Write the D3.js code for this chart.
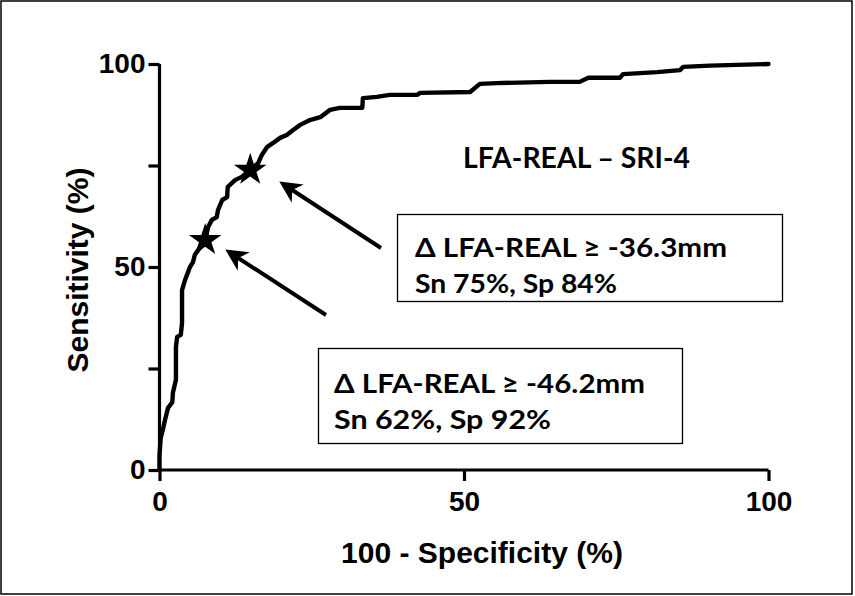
<!DOCTYPE html>
<html>
<head>
<meta charset="utf-8">
<script src="https://cdn.jsdelivr.net/npm/d3@7"></script>
<style>
  html, body { margin: 0; padding: 0; background: #fff; }
  svg { display: block; }
</style>
</head>
<body>
<svg id="chart" width="855" height="596"></svg>
<script>
// ---- data ----
const fpr = [0, 0, 0.2, 0.6, 0.9, 1.4, 2.1, 2.2, 2.7, 2.7, 2.7, 2.7, 2.9, 3.5, 3.7, 3.7, 3.7, 4.2, 4.5, 5.0, 5.5, 5.8, 6.7, 7.5, 8.0, 8.6, 9.4, 9.6, 10.3, 11.1, 11.2, 12.4, 13.5, 14.9, 16.2, 16.8, 17.7, 18.6, 19.8, 20.9, 21.9, 23.1, 24.7, 26.4, 28.0, 29.6, 33.3, 33.4, 35.7, 37.8, 42.3, 42.8, 51.0, 52.6, 55.4, 64.1, 69.0, 70.4, 75.6, 76.1, 81.7, 85.5, 86.0, 90.4, 100];
const sensitivity = [0, 3.7, 7.9, 10.3, 12.3, 15.3, 16.7, 19.0, 22.2, 23.4, 27.1, 30.3, 32.8, 33.3, 36.2, 41.9, 44.3, 46.8, 48.0, 50.0, 51.2, 53.0, 54.9, 56.7, 59.9, 61.6, 62.3, 64.0, 66.5, 67.2, 69.7, 71.4, 72.2, 73.9, 75.6, 77.6, 79.6, 80.5, 81.8, 82.5, 83.7, 85.0, 86.2, 86.9, 88.7, 89.2, 89.2, 91.6, 91.9, 92.4, 92.4, 92.9, 93.1, 95.1, 95.3, 95.6, 95.6, 96.6, 96.6, 97.5, 98.0, 98.5, 99.3, 99.6, 100];
const cutoffFpr = [7.5, 14.9];
const cutoffSens = [56.6, 73.9];
const xTicks = [0, 50, 100];
const yTicks = [0, 25, 50, 75, 100];
const yTickLabels = ["0", "", "50", "", "100"];
const titleText = "LFA-REAL \u2013 SRI-4";
const box1Lines = ["\u0394 LFA-REAL \u2265 -36.3mm", "Sn 75%, Sp 84%"];
const box2Lines = ["\u0394 LFA-REAL \u2265 -46.2mm", "Sn 62%, Sp 92%"];

// ---- drawing ----
const svg = d3.select("#chart");
svg.append("rect").attr("x", 1).attr("y", 1).attr("width", 851).attr("height", 593)
  .attr("fill", "#fff").attr("stroke", "#000").attr("stroke-width", 1.5);

const x = d3.scaleLinear().domain([0, 100]).range([159.5, 768.5]);
const y = d3.scaleLinear().domain([0, 100]).range([470, 64]);

const axisFont = "'Liberation Sans', Arial, sans-serif";
const boxFont = "Lato, 'Open Sans', sans-serif";

// x axis
const xAxis = svg.append("g").attr("transform", `translate(0,${y(0)})`)
  .call(d3.axisBottom(x).tickValues(xTicks).tickSize(11).tickSizeOuter(0).tickPadding(10).tickFormat(d3.format("d")));
xAxis.select(".domain").attr("stroke-width", 3.2).attr("d", `M${x(0)},0H${x(100)}`);
xAxis.selectAll(".tick line").attr("stroke-width", 3.2);
xAxis.selectAll(".tick text").attr("font-family", axisFont).attr("font-weight", "bold")
  .attr("font-size", 28).attr("fill", "#000");

// y axis
const yAxis = svg.append("g").attr("transform", `translate(${x(0)},0)`)
  .call(d3.axisLeft(y).tickValues(yTicks).tickSize(11).tickSizeOuter(0).tickPadding(3)
    .tickFormat((d, i) => yTickLabels[i]));
yAxis.select(".domain").attr("stroke-width", 3.2).attr("d", `M0,${y(0)}V${y(100)}`);
yAxis.selectAll(".tick line").attr("stroke-width", 3.2);
yAxis.selectAll(".tick text").attr("font-family", axisFont).attr("font-weight", "bold")
  .attr("font-size", 28).attr("fill", "#000");

// axis titles
svg.append("text").attr("x", (x(0) + x(100)) / 2 + 18).attr("y", 563)
  .attr("text-anchor", "middle").attr("font-family", axisFont).attr("font-weight", "bold")
  .attr("font-size", 30).text("100 - Specificity (%)");
svg.append("text").attr("transform", `translate(88,270) rotate(-90)`)
  .attr("text-anchor", "middle").attr("font-family", axisFont).attr("font-weight", "bold")
  .attr("font-size", 30).text("Sensitivity (%)");

// ROC curve
const pts = fpr.map((d, i) => [d, sensitivity[i]]);
const line = d3.line().x(d => x(d[0])).y(d => y(d[1]));
svg.append("path").datum(pts).attr("d", line).attr("fill", "none")
  .attr("stroke", "#000").attr("stroke-width", 4.4).attr("stroke-linejoin", "round")
  .attr("stroke-linecap", "round");

// stars at cutoffs
const star = d3.symbol().type(d3.symbolStar).size(330);
svg.selectAll(".star").data(cutoffFpr.map((d, i) => [d, cutoffSens[i]])).join("path")
  .attr("class", "star").attr("d", star)
  .attr("transform", d => `translate(${x(d[0])},${y(d[1])})`).attr("fill", "#000");

// title
svg.append("text").attr("x", 463).attr("y", 168).attr("font-family", boxFont)
  .attr("font-weight", "bold").attr("font-size", 28).attr("textLength", 227)
  .attr("lengthAdjust", "spacingAndGlyphs").text(titleText);

// arrows
const defs = svg.append("defs");
defs.append("marker").attr("id", "ah").attr("viewBox", "0 0 10 10").attr("refX", 8).attr("refY", 5)
  .attr("markerWidth", 5.5).attr("markerHeight", 5.5).attr("orient", "auto")
  .append("path").attr("d", "M0,0L10,5L0,10L3,5Z").attr("fill", "#000");
const arrows = [[381, 248, 283, 184], [326, 315, 229, 252]];
arrows.forEach(a => {
  svg.append("line").attr("x1", a[0]).attr("y1", a[1]).attr("x2", a[2]).attr("y2", a[3])
    .attr("stroke", "#000").attr("stroke-width", 4).attr("marker-end", "url(#ah)");
});

// annotation boxes
function box(bx, by, bw, bh, lines, tx, baselines, widths) {
  svg.append("rect").attr("x", bx).attr("y", by).attr("width", bw).attr("height", bh)
    .attr("fill", "#fff").attr("stroke", "#000").attr("stroke-width", 1.3);
  lines.forEach((t, i) => {
    svg.append("text").attr("x", tx).attr("y", baselines[i]).attr("font-family", boxFont)
      .attr("font-weight", "bold").attr("font-size", 27).attr("textLength", widths[i])
      .attr("lengthAdjust", "spacingAndGlyphs").text(t);
  });
}
box(397.5, 214.5, 385, 87, box1Lines, 415, [257, 293], [312, 202]);
box(318.5, 348.5, 364, 95, box2Lines, 334, [393, 429], [311, 217]);
</script>
</body>
</html>
